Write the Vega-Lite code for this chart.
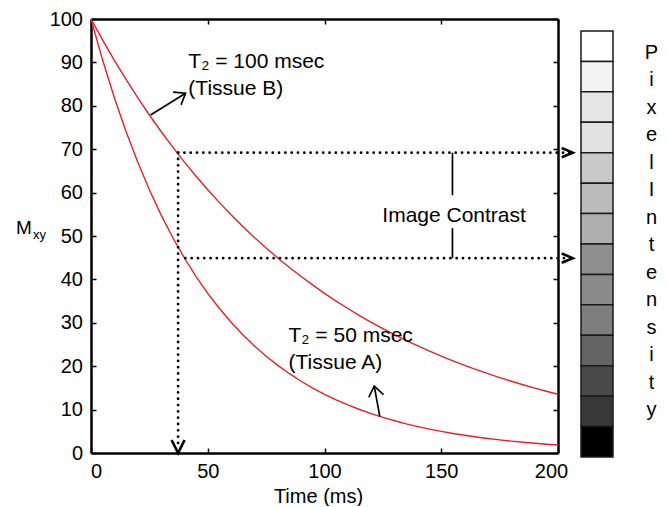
{
  "$schema": "https://vega.github.io/schema/vega-lite/v6.json",
  "background": "white",
  "padding": {"left": 15, "top": 9, "right": 0, "bottom": 0},
  "bounds": "flush",
  "spacing": 23,
  "datasets": {
    "curves": [
      {"tissue": "B", "t": 0, "m": 100}, {"tissue": "B", "t": 5, "m": 95.12}, {"tissue": "B", "t": 10, "m": 90.48}, {"tissue": "B", "t": 15, "m": 86.07}, {"tissue": "B", "t": 20, "m": 81.87}, {"tissue": "B", "t": 25, "m": 77.88}, {"tissue": "B", "t": 30, "m": 74.08}, {"tissue": "B", "t": 35, "m": 70.47}, {"tissue": "B", "t": 40, "m": 67.03}, {"tissue": "B", "t": 45, "m": 63.76}, {"tissue": "B", "t": 50, "m": 60.65}, {"tissue": "B", "t": 55, "m": 57.69}, {"tissue": "B", "t": 60, "m": 54.88}, {"tissue": "B", "t": 65, "m": 52.2}, {"tissue": "B", "t": 70, "m": 49.66}, {"tissue": "B", "t": 75, "m": 47.24}, {"tissue": "B", "t": 80, "m": 44.93}, {"tissue": "B", "t": 85, "m": 42.74}, {"tissue": "B", "t": 90, "m": 40.66}, {"tissue": "B", "t": 95, "m": 38.67}, {"tissue": "B", "t": 100, "m": 36.79}, {"tissue": "B", "t": 105, "m": 34.99}, {"tissue": "B", "t": 110, "m": 33.29}, {"tissue": "B", "t": 115, "m": 31.67}, {"tissue": "B", "t": 120, "m": 30.12}, {"tissue": "B", "t": 125, "m": 28.65}, {"tissue": "B", "t": 130, "m": 27.25}, {"tissue": "B", "t": 135, "m": 25.92}, {"tissue": "B", "t": 140, "m": 24.66}, {"tissue": "B", "t": 145, "m": 23.46}, {"tissue": "B", "t": 150, "m": 22.31}, {"tissue": "B", "t": 155, "m": 21.22}, {"tissue": "B", "t": 160, "m": 20.19}, {"tissue": "B", "t": 165, "m": 19.2}, {"tissue": "B", "t": 170, "m": 18.27}, {"tissue": "B", "t": 175, "m": 17.38}, {"tissue": "B", "t": 180, "m": 16.53}, {"tissue": "B", "t": 185, "m": 15.72}, {"tissue": "B", "t": 190, "m": 14.96}, {"tissue": "B", "t": 195, "m": 14.23}, {"tissue": "B", "t": 200, "m": 13.53},
      {"tissue": "A", "t": 0, "m": 100}, {"tissue": "A", "t": 5, "m": 90.48}, {"tissue": "A", "t": 10, "m": 81.87}, {"tissue": "A", "t": 15, "m": 74.08}, {"tissue": "A", "t": 20, "m": 67.03}, {"tissue": "A", "t": 25, "m": 60.65}, {"tissue": "A", "t": 30, "m": 54.88}, {"tissue": "A", "t": 35, "m": 49.66}, {"tissue": "A", "t": 40, "m": 44.93}, {"tissue": "A", "t": 45, "m": 40.66}, {"tissue": "A", "t": 50, "m": 36.79}, {"tissue": "A", "t": 55, "m": 33.29}, {"tissue": "A", "t": 60, "m": 30.12}, {"tissue": "A", "t": 65, "m": 27.25}, {"tissue": "A", "t": 70, "m": 24.66}, {"tissue": "A", "t": 75, "m": 22.31}, {"tissue": "A", "t": 80, "m": 20.19}, {"tissue": "A", "t": 85, "m": 18.27}, {"tissue": "A", "t": 90, "m": 16.53}, {"tissue": "A", "t": 95, "m": 14.96}, {"tissue": "A", "t": 100, "m": 13.53}, {"tissue": "A", "t": 105, "m": 12.25}, {"tissue": "A", "t": 110, "m": 11.08}, {"tissue": "A", "t": 115, "m": 10.03}, {"tissue": "A", "t": 120, "m": 9.07}, {"tissue": "A", "t": 125, "m": 8.21}, {"tissue": "A", "t": 130, "m": 7.43}, {"tissue": "A", "t": 135, "m": 6.72}, {"tissue": "A", "t": 140, "m": 6.08}, {"tissue": "A", "t": 145, "m": 5.5}, {"tissue": "A", "t": 150, "m": 4.98}, {"tissue": "A", "t": 155, "m": 4.5}, {"tissue": "A", "t": 160, "m": 4.08}, {"tissue": "A", "t": 165, "m": 3.69}, {"tissue": "A", "t": 170, "m": 3.34}, {"tissue": "A", "t": 175, "m": 3.02}, {"tissue": "A", "t": 180, "m": 2.73}, {"tissue": "A", "t": 185, "m": 2.47}, {"tissue": "A", "t": 190, "m": 2.24}, {"tissue": "A", "t": 195, "m": 2.02}, {"tissue": "A", "t": 200, "m": 1.83}
    ]
  },
  "hconcat": [
    {
      "width": 467,
      "height": 434,
      "layer": [
        {
          "data": {"name": "curves"},
          "mark": {"type": "line", "color": "#e8202a", "strokeWidth": 1.4},
          "encoding": {
            "x": {"field": "t", "type": "quantitative", "scale": {"domain": [0, 200], "nice": false},
              "axis": {"orient": "bottom", "values": [0, 50, 100, 150, 200], "labelFlush": false, "title": "Time (ms)", "titleX": 227, "titleY": 49, "titleAlign": "center", "titleBaseline": "alphabetic",
                "labelOffset": {"condition": [{"test": "datum.value === 0", "value": 5}, {"test": "datum.value === 200", "value": -7}], "value": 0}}},
            "y": {"field": "m", "type": "quantitative", "scale": {"domain": [0, 100], "nice": false},
              "axis": {"orient": "left", "values": [0, 10, 20, 30, 40, 50, 60, 70, 80, 90, 100], "title": "M", "titleAngle": 0, "titleAlign": "left", "titleBaseline": "alphabetic", "titleX": -75.6, "titleY": 214, "titleFontSize": 19}},
            "detail": {"field": "tissue"}
          }
        },
        {
          "data": {"values": [{"t": 0, "m": 0}]},
          "mark": {"type": "point", "opacity": 0},
          "encoding": {
            "x": {"field": "t", "type": "quantitative", "scale": {"domain": [0, 200], "nice": false},
              "axis": {"orient": "top", "values": [0, 50, 100, 150, 200], "labels": false, "title": null}},
            "y": {"field": "m", "type": "quantitative", "scale": {"domain": [0, 100], "nice": false},
              "axis": {"orient": "right", "values": [0, 10, 20, 30, 40, 50, 60, 70, 80, 90, 100], "labels": false, "title": null}}
          }
        },
        {
          "data": {"values": [
            {"t": 37.3, "t2": 37.3, "m": 69.2, "m2": 1.0},
            {"t": 37.3, "t2": 205.5, "m": 69.2, "m2": 69.2},
            {"t": 40.4, "t2": 205.5, "m": 44.9, "m2": 44.9}
          ]},
          "mark": {"type": "rule", "color": "black", "strokeWidth": 2.8, "strokeCap": "round", "strokeDash": [0.01, 6.3]},
          "encoding": {
            "x": {"field": "t", "type": "quantitative", "axis": null},
            "x2": {"field": "t2"},
            "y": {"field": "m", "type": "quantitative", "axis": null},
            "y2": {"field": "m2"}
          }
        },
        {
          "data": {"values": [
            {"t": 154.8, "t2": 154.8, "m": 69.2, "m2": 59.4},
            {"t": 154.8, "t2": 154.8, "m": 51.8, "m2": 44.9},
            {"t": 25.5, "t2": 40.5, "m": 77.9, "m2": 82.9},
            {"t": 123.7, "t2": 121.3, "m": 8.4, "m2": 15.4}
          ]},
          "mark": {"type": "rule", "color": "black", "strokeWidth": 1.7},
          "encoding": {
            "x": {"field": "t", "type": "quantitative", "axis": null},
            "x2": {"field": "t2"},
            "y": {"field": "m", "type": "quantitative", "axis": null},
            "y2": {"field": "m2"}
          }
        },
        {
          "data": {"values": [{"t": 37.3, "m": 0}]},
          "mark": {"type": "point", "shape": "M -1 -0.5 L 0 0 L -1 0.5", "filled": false, "stroke": "black", "strokeWidth": 2.6, "size": 676, "angle": 90, "opacity": 1},
          "encoding": {
            "x": {"field": "t", "type": "quantitative", "axis": null},
            "y": {"field": "m", "type": "quantitative", "axis": null}
          }
        },
        {
          "data": {"values": [{"t": 206.3, "m": 69.2}, {"t": 206.3, "m": 44.9}]},
          "mark": {"type": "point", "shape": "M -1 -0.42 L 0 0 L -1 0.42", "filled": false, "stroke": "black", "strokeWidth": 2.6, "size": 484, "opacity": 1},
          "encoding": {
            "x": {"field": "t", "type": "quantitative", "axis": null},
            "y": {"field": "m", "type": "quantitative", "axis": null}
          }
        },
        {
          "data": {"values": [{"t": 40.5, "m": 82.9}]},
          "mark": {"type": "point", "shape": "M -1 -0.75 L 0 0 L -1 0.75", "filled": false, "stroke": "black", "strokeWidth": 1.6, "size": 400, "angle": 328, "opacity": 1},
          "encoding": {
            "x": {"field": "t", "type": "quantitative", "axis": null},
            "y": {"field": "m", "type": "quantitative", "axis": null}
          }
        },
        {
          "data": {"values": [{"t": 121.3, "m": 15.4}]},
          "mark": {"type": "point", "shape": "M -1 -0.75 L 0 0 L -1 0.75", "filled": false, "stroke": "black", "strokeWidth": 1.6, "size": 400, "angle": 259, "opacity": 1},
          "encoding": {
            "x": {"field": "t", "type": "quantitative", "axis": null},
            "y": {"field": "m", "type": "quantitative", "axis": null}
          }
        },
        {
          "data": {"values": [
            {"t": 41.7, "m": 88.7, "label": "T₂ = 100 msec\n(Tissue B)"},
            {"t": 84.6, "m": 25.6, "label": "T₂ = 50 msec\n(Tissue A)"}
          ]},
          "mark": {"type": "text", "align": "left", "baseline": "alphabetic", "fontSize": 21, "lineHeight": 27, "lineBreak": "\n", "color": "black", "font": "Liberation Sans"},
          "encoding": {
            "x": {"field": "t", "type": "quantitative", "axis": null},
            "y": {"field": "m", "type": "quantitative", "axis": null},
            "text": {"field": "label"}
          }
        },
        {
          "data": {"values": [{"t": 155.5, "m": 53.2, "label": "Image Contrast"}]},
          "mark": {"type": "text", "align": "center", "baseline": "alphabetic", "fontSize": 21, "color": "black", "font": "Liberation Sans"},
          "encoding": {
            "x": {"field": "t", "type": "quantitative", "axis": null},
            "y": {"field": "m", "type": "quantitative", "axis": null},
            "text": {"field": "label"}
          }
        },
        {
          "data": {"values": [{"t": 0, "m": 50, "label": "xy"}]},
          "mark": {"type": "text", "align": "left", "baseline": "alphabetic", "fontSize": 13, "dx": -58, "dy": 3, "color": "black", "font": "Liberation Sans"},
          "encoding": {
            "x": {"field": "t", "type": "quantitative", "axis": null},
            "y": {"field": "m", "type": "quantitative", "axis": null},
            "text": {"field": "label"}
          }
        }
      ],
      "resolve": {"axis": {"x": "independent", "y": "independent"}}
    },
    {
      "width": 32,
      "height": 438,
      "data": {"values": [
        {"level": 13, "lo": 13, "hi": 14}, {"level": 12, "lo": 12, "hi": 13}, {"level": 11, "lo": 11, "hi": 12}, {"level": 10, "lo": 10, "hi": 11},
        {"level": 9, "lo": 9, "hi": 10}, {"level": 8, "lo": 8, "hi": 9}, {"level": 7, "lo": 7, "hi": 8}, {"level": 6, "lo": 6, "hi": 7},
        {"level": 5, "lo": 5, "hi": 6}, {"level": 4, "lo": 4, "hi": 5}, {"level": 3, "lo": 3, "hi": 4}, {"level": 2, "lo": 2, "hi": 3},
        {"level": 1, "lo": 1, "hi": 2}, {"level": 0, "lo": 0, "hi": 1}
      ]},
      "mark": {"type": "rect", "stroke": "#1a1a1a", "strokeWidth": 1.5},
      "encoding": {
        "y": {"field": "lo", "type": "quantitative", "scale": {"domain": [0, 14.394], "nice": false, "zero": false},
          "axis": {"orient": "right", "labels": false, "ticks": false, "domain": false, "grid": false,
            "title": ["P", "i", "x", "e", "l", " ", "I", "n", "t", "e", "n", "s", "i", "t", "y"],
            "titleAngle": 0, "titleAlign": "center", "titleBaseline": "alphabetic", "titleX": 38, "titleY": 39, "titleLineHeight": 27.5, "titleFontSize": 20}},
        "y2": {"field": "hi"},
        "color": {"field": "level", "type": "ordinal", "legend": null,
          "scale": {"domain": [0, 1, 2, 3, 4, 5, 6, 7, 8, 9, 10, 11, 12, 13],
            "range": ["#000000", "#383838", "#494949", "#646464", "#7e7e7e", "#8a8a8a", "#8f8f8f", "#afafaf", "#bbbbbb", "#c8c9c8", "#e2e2e2", "#e6e6e6", "#f3f4f3", "#ffffff"]}}
      }
    }
  ],
  "config": {
    "font": "Liberation Sans",
    "view": {"stroke": null},
    "axis": {
      "grid": false,
      "domainColor": "black",
      "domainWidth": 2.5,
      "tickColor": "black",
      "tickWidth": 1.5,
      "tickSize": -5,
      "labelPadding": 13.5,
      "labelFontSize": 20,
      "labelColor": "black",
      "labelFont": "Liberation Sans",
      "titleFont": "Liberation Sans",
      "titleFontSize": 20,
      "titleFontWeight": "normal",
      "titleColor": "black"
    }
  }
}
